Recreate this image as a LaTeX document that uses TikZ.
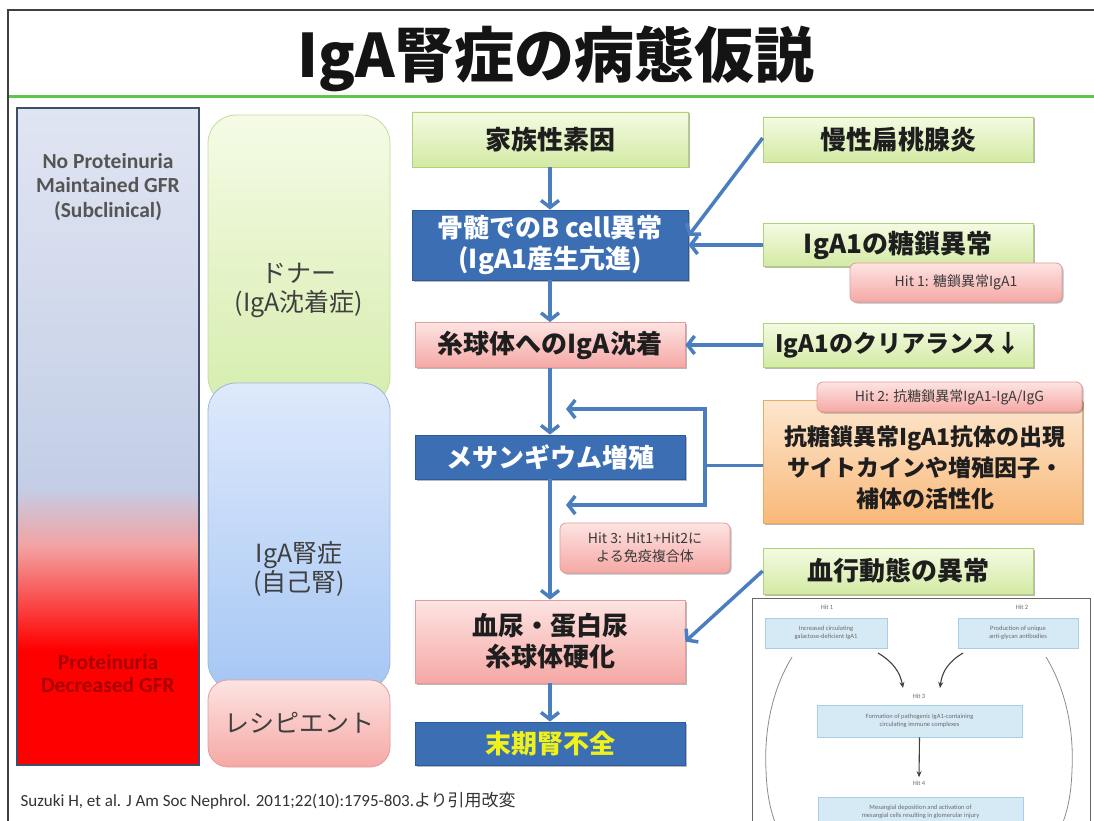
\documentclass[tikz,border=0pt]{standalone}
\usepackage{fontspec}
\setmainfont{Carlito}
\newfontfamily\jp{Noto Sans CJK JP}
\usetikzlibrary{arrows.meta,shadows,calc}
\definecolor{gTop}{HTML}{F4FBE2}
\definecolor{gBot}{HTML}{D3EAA4}
\definecolor{gLine}{HTML}{AFD279}
\definecolor{bFill}{HTML}{3C6EB4}
\definecolor{bLine}{HTML}{2D5A98}
\definecolor{pTop}{HTML}{FDE4E2}
\definecolor{pBot}{HTML}{F5A8A5}
\definecolor{pLine}{HTML}{E39C99}
\definecolor{oTop}{HTML}{FDE7CF}
\definecolor{oBot}{HTML}{F9B878}
\definecolor{oLine}{HTML}{F1A760}
\definecolor{arrBlue}{HTML}{4A7EBE}
\definecolor{txtDark}{HTML}{1E1E1E}
\definecolor{hitTxt}{HTML}{3A3A3A}
\definecolor{colTxt}{HTML}{3F3F3F}
\definecolor{lbTxt}{HTML}{555555}
\definecolor{lbRed}{HTML}{A80000}
\definecolor{lbTop}{HTML}{E0E5F2}
\definecolor{lbMid}{HTML}{C3CEE6}
\definecolor{lbPink}{HTML}{F3A2A2}
\definecolor{lbRedC}{HTML}{FF0000}
\definecolor{lbLine}{HTML}{3E4D6A}
\definecolor{cgTop}{HTML}{F5FBE6}
\definecolor{cgBot}{HTML}{D6EDAE}
\definecolor{cgLine}{HTML}{C2DC9C}
\definecolor{cbTop}{HTML}{DEE9FB}
\definecolor{cbBot}{HTML}{A6C7F4}
\definecolor{cbLine}{HTML}{9DB6DD}
\definecolor{escYel}{HTML}{EEF21A}
\definecolor{titleGreen}{HTML}{5CC84A}
\definecolor{frameGray}{HTML}{404040}
\definecolor{insetBox}{HTML}{D6EAF6}
\definecolor{insetLine}{HTML}{A8CDE4}
\definecolor{insetTxt}{HTML}{6A6A6A}
\begin{document}
\begin{tikzpicture}[x=1pt,y=-1pt,
  shadowed/.style={drop shadow={shadow xshift=1.5pt,shadow yshift=-1.5pt,opacity=0.28,fill=black}},
  flowbox/.style={rectangle, inner sep=0pt, align=center, line width=0.8pt, shadowed},
  boxfont/.style={font=\jp\bfseries\fontsize{26}{31}\selectfont},
  gbox/.style={flowbox, boxfont, top color=gTop, bottom color=gBot, draw=gLine, text=txtDark},
  bbox/.style={flowbox, boxfont, fill=bFill, draw=bLine, text=white},
  pbox/.style={flowbox, boxfont, top color=pTop, bottom color=pBot, draw=pLine, text=txtDark},
  obox/.style={flowbox, top color=oTop, bottom color=oBot, draw=oLine},
  hitbox/.style={rectangle, rounded corners=6pt, inner sep=0pt, align=center, line width=0.8pt, shadowed,
     top color=pTop, bottom color=pBot, draw=pLine, text=hitTxt, font=\jp\fontsize{14}{22}\selectfont},
  colbox/.style={rectangle, rounded corners=28pt, inner sep=0pt, line width=0.8pt},
  collabel/.style={align=center, text=colTxt, font=\jp\fontsize{25}{29}\selectfont},
  arr/.style={draw=arrBlue, line width=3.5pt, -{Straight Barb[length=7pt,width=18pt]}},
  plain/.style={draw=arrBlue, line width=3.5pt},
  ibox/.style={rectangle, inner sep=0pt, align=center, fill=insetBox, draw=insetLine, line width=0.6pt,
     text=insetTxt, font=\fontsize{6.5}{7.6}\selectfont},
  ilabel/.style={text=insetTxt, font=\fontsize{6.5}{7.6}\selectfont},
  iarr/.style={draw=black!75, line width=1.1pt, -{Stealth[length=6pt,width=5pt]}}
]
\clip (0,0) rectangle (1094,821);
\fill[white] (0,0) rectangle (1094,821);

% frame and title
\draw[frameGray, line width=2.5pt] (8,10) rectangle (1110,840);
\draw[titleGreen, line width=3pt] (9,97) -- (1094,97);
\node[font=\jp\bfseries\fontsize{60}{66}\selectfont, text=black!92] (title) at (556,59) {IgA腎症の病態仮説};

% left bar
\fill[lbRedC] (17,649) rectangle (199,765);
\shade[top color=lbPink, bottom color=lbRedC] (17,546) rectangle (199,649.5);
\shade[top color=lbMid, bottom color=lbPink] (17,488) rectangle (199,546.5);
\shade[top color=lbTop, bottom color=lbMid] (17,108) rectangle (199,488.5);
\draw[lbLine, line width=1.4pt] (17,108) rectangle (199,765);
\node[align=center, text=lbTxt, font=\bfseries\fontsize{21.5}{24.5}\selectfont] (lbtop) at (108,187) {No Proteinuria\\Maintained GFR\\(Subclinical)};
\node[align=center, text=lbRed, font=\bfseries\fontsize{21.5}{23}\selectfont] (lbbot) at (108,674) {Proteinuria\\Decreased GFR};

% middle column
\node[colbox, top color=cgTop, bottom color=cgBot, draw=cgLine, minimum width=182pt, minimum height=290pt] (donor) at (299,260) {};
\node[colbox, top color=cbTop, bottom color=cbBot, draw=cbLine, minimum width=182pt, minimum height=307pt] (ownk) at (299,536.5) {};
\node[colbox, rounded corners=20pt, top color=pTop, bottom color=pBot, draw=pLine, minimum width=182pt, minimum height=87pt] (recip) at (299,723.5) {};
\node[collabel] (donorlbl) at (299,290) {ドナー\\(IgA沈着症)};
\node[collabel] (ownklbl) at (299,569) {IgA腎症\\(自己腎)};
\node[collabel] (reciplbl) at (299,723) {レシピエント};

% flow column
\node[gbox, minimum width=276pt, minimum height=55pt] (fam) at (550,139.5) {家族性素因};
\node[bbox, minimum width=276pt, minimum height=70pt] (bcell) at (550,245) {骨髄でのB cell異常\\(IgA1産生亢進)};
\node[pbox, minimum width=270pt, minimum height=45pt] (glom) at (550,345) {糸球体へのIgA沈着};
\node[bbox, minimum width=270pt, minimum height=44pt] (mes) at (550,457) {メサンギウム増殖};
\node[pbox, minimum width=270pt, minimum height=83pt] (hem) at (550,641.5) {血尿・蛋白尿\\糸球体硬化};
\node[bbox, minimum width=270pt, minimum height=43pt, text=escYel] (esrd) at (550,743.5) {末期腎不全};

% right column
\node[gbox, minimum width=270pt, minimum height=45pt] (tons) at (898,139.5) {慢性扁桃腺炎};
\node[gbox, minimum width=270pt, minimum height=43pt] (glyc) at (898,245) {IgA1の糖鎖異常};
\node[hitbox, minimum width=212pt, minimum height=39pt] (hit1) at (956,282.5) {Hit 1: 糖鎖異常IgA1};
\node[gbox, minimum width=270pt, minimum height=44pt, font=\jp\bfseries\fontsize{24}{31}\selectfont] (clr) at (898,345) {IgA1のクリアランス↓};
\node[obox, minimum width=319pt, minimum height=123pt] (orange) at (922.5,461.5) {};
\node[align=center, text=txtDark, font=\jp\bfseries\fontsize{23}{31}\selectfont] (orangelbl) at (925,468) {抗糖鎖異常IgA1抗体の出現\\サイトカインや増殖因子・\\補体の活性化};
\node[hitbox, minimum width=265pt, minimum height=30pt] (hit2) at (949.5,397) {Hit 2: 抗糖鎖異常IgA1-IgA/IgG};
\node[gbox, minimum width=270pt, minimum height=46pt] (hemo) at (898,571) {血行動態の異常};
\node[hitbox, minimum width=170pt, minimum height=50pt] (hit3) at (645,548) {Hit 3: Hit1+Hit2に\\[-4pt]よる免疫複合体};

% connectors
\draw[arr] (fam.south) -- (bcell.north);
\draw[arr] (bcell.south) -- (glom.north);
\draw[arr] (glom.south) -- (mes.north);
\draw[arr] (mes.south) -- (hem.north);
\draw[arr] (hem.south) -- (esrd.north);
\draw[arr] ($(tons.west)+(0,-1.5)$) -- ($(bcell.east)+(0,-9)$);
\draw[arr] (glyc.west) -- (bcell.east);
\draw[arr] (clr.west) -- (glom.east);
\draw[arr] (hemo.west) -- (hem.east);
\coordinate (fbt) at (705,409);
\coordinate (fbb) at (705,505);
\coordinate (tipt) at (566,409);
\coordinate (tipb) at (566,505);
\draw[plain] ($(orange.west)+(0,4)$) -- ($(orange.west -| fbt)+(0,4)$);
\draw[plain, line cap=rect] (fbt) -- (fbb);
\draw[arr] (fbt) -- (tipt);
\draw[arr] (fbb) -- (tipb);

% inset figure
\draw[black!60, line width=1pt, fill=white] (752,598) rectangle (1090,840);
\node[ilabel] (ih1) at (827,607) {Hit 1};
\node[ilabel] (ih2) at (1022,607) {Hit 2};
\node[ibox, minimum width=122pt, minimum height=30pt] (ib1) at (826,633) {Increased circulating\\galactose-deficient IgA1};
\node[ibox, minimum width=120pt, minimum height=30pt] (ib2) at (1018,633) {Production of unique\\anti-glycan antibodies};
\node[ilabel] (ih3) at (919,696) {Hit 3};
\node[ibox, minimum width=205pt, minimum height=32pt] (ib3) at (919.5,721) {Formation of pathogenic IgA1-containing\\circulating immune complexes};
\node[ilabel] (ih4) at (919,783) {Hit 4};
\node[ibox, minimum width=205pt, minimum height=30pt] (ib4) at (920.5,812) {Mesangial deposition and activation of\\mesangial cells resulting in glomerular injury};
\coordinate (a1s) at (878,653);
\coordinate (a1e) at (903,688);
\coordinate (a2s) at (963,653);
\coordinate (a2e) at (940,688);
\draw[iarr] (a1s) .. controls (893,662) and (900,672) .. (a1e);
\draw[iarr] (a2s) .. controls (948,662) and (942,672) .. (a2e);
\draw[iarr] (ib3.south) -- (ih4.north);
\draw[black!45, line width=0.8pt] (792,657) .. controls (772,690) and (764,730) .. (766,770) .. controls (767,800) and (772,815) .. (778,830);
\draw[black!45, line width=0.8pt] (1046,657) .. controls (1066,690) and (1074,730) .. (1072,770) .. controls (1071,800) and (1066,815) .. (1060,830);

% footer
\node[anchor=west, text=black!80, font=\fontsize{17}{20}\selectfont] (ref) at (17,801) {Suzuki H, et al. J Am Soc Nephrol. 2011;22(10):1795-803.{\jp より引用改変}};
\end{tikzpicture}
\end{document}
